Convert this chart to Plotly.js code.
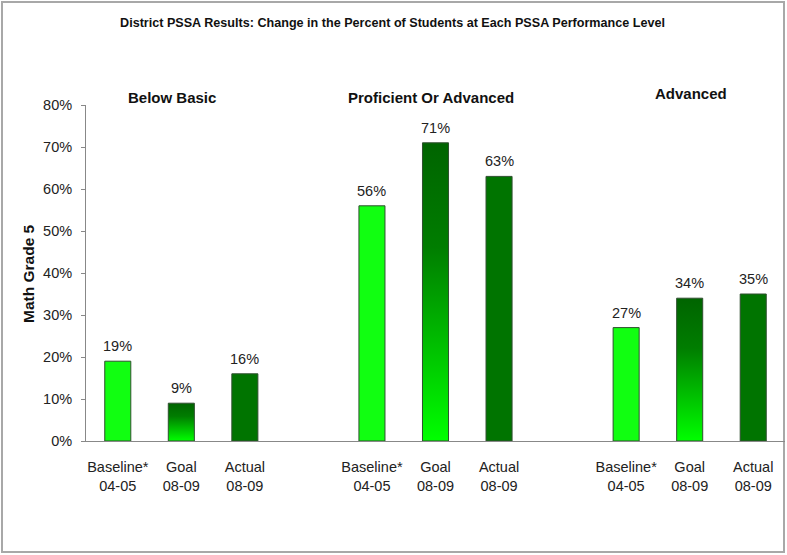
<!DOCTYPE html>
<html>
<head>
<meta charset="utf-8">
<script src="https://cdn.plot.ly/plotly-3.0.1.min.js"></script>
<style>
html,body{margin:0;padding:0;background:#fff;}
#chart{width:787px;height:555px;}
</style>
</head>
<body>
<div id="chart"></div>
<script>
// ---- data ----
const groups = ["Below Basic", "Proficient Or Advanced", "Advanced"];
const seriesNames = ["Baseline", "Goal", "Actual"];
const tickLabels = ["Baseline*<br>04-05", "Goal<br>08-09", "Actual<br>08-09"];
const baseline = [19, 56, 27];
const goal = [9, 71, 34];
const actual = [16, 63, 35];
const yTickVals = [0, 10, 20, 30, 40, 50, 60, 70, 80];
const yTickText = ["0%", "10%", "20%", "30%", "40%", "50%", "60%", "70%", "80%"];

// ---- layout helpers ----
const FONT = "Liberation Sans, Arial, sans-serif";
const slotsPerGroup = 4; // 3 bars + one empty gap
const seriesValues = [baseline, goal, actual];
const colors = ["#11ff11", "#006f00", "#007400"];

function xPos(g, s) { return g * slotsPerGroup + s; }

const traces = seriesValues.map((vals, s) => ({
  type: "bar",
  name: seriesNames[s],
  x: vals.map((v, g) => xPos(g, s)),
  y: vals,
  width: 0.41,
  marker: { color: colors[s], line: { color: "#2f4f2f", width: 1 } },
  hoverinfo: "y",
  showlegend: false
}));

const tickvals = [], ticktext = [];
groups.forEach((g, gi) => seriesNames.forEach((s, si) => {
  tickvals.push(xPos(gi, si)); ticktext.push(tickLabels[si]);
}));

const annotations = [];
seriesValues.forEach((vals, s) => vals.forEach((v, g) => {
  annotations.push({
    x: xPos(g, s), y: v, xref: "x", yref: "y",
    text: v + "%", showarrow: false, yanchor: "middle", yshift: 15,
    font: { family: FONT, size: 14.5, color: "#222" }
  });
}));
const groupTitleY = [97, 97, 94];
const groupTitleShift = [-9, -5, 1];
groups.forEach((g, gi) => {
  annotations.push({
    x: xPos(gi, 1), xshift: groupTitleShift[gi], y: (441 - groupTitleY[gi]) / 336, xref: "x", yref: "paper",
    text: "<b>" + g + "</b>", showarrow: false, yanchor: "middle",
    font: { family: FONT, size: 15, color: "#111" }
  });
});
annotations.push({
  x: (28 - 86) / 699, y: 0.5, xref: "paper", yref: "paper",
  text: "<b>Math Grade 5</b>", textangle: -90, showarrow: false,
  xanchor: "center", yanchor: "middle",
  font: { family: FONT, size: 15.5, color: "#111" }
});

const layout = {
  width: 787, height: 555,
  margin: { l: 86, r: 2, t: 105, b: 114 },
  paper_bgcolor: "#fff", plot_bgcolor: "#fff",
  title: {
    text: "<b>District PSSA Results: Change in the Percent of Students at Each PSSA Performance Level</b>",
    x: 392.5 / 787, xref: "container", xanchor: "center",
    y: 1 - 23 / 555, yref: "container", yanchor: "middle",
    font: { family: FONT, size: 12.6, color: "#111" }
  },
  xaxis: {
    range: [-0.5, 10.5], tickvals: tickvals, ticktext: ticktext,
    showgrid: false, zeroline: false, showline: true, linecolor: "#888", linewidth: 1,
    ticks: "", ticklabelstandoff: 13,
    tickfont: { family: FONT, size: 14.5, color: "#222" }
  },
  yaxis: {
    range: [0, 80], tickvals: yTickVals, ticktext: yTickText,
    showgrid: false, zeroline: false, showline: true, linecolor: "#888", linewidth: 1,
    ticks: "outside", ticklen: 4, tickcolor: "#888", ticklabelstandoff: 6,
    tickfont: { family: FONT, size: 14.5, color: "#222" }
  },
  annotations: annotations,
  shapes: [{
    type: "rect", xref: "paper", yref: "paper",
    x0: (2 - 86) / 699, x1: (784 - 86) / 699,
    y0: (441 - 552) / 336, y1: (441 - 2) / 336,
    line: { color: "#a8a8a8", width: 2 }, fillcolor: "rgba(0,0,0,0)", layer: "below"
  }]
};

Plotly.newPlot("chart", traces, layout, { displayModeBar: false, staticPlot: true }).then(gd => {
  const svg = gd.querySelector(".main-svg");
  const ns = "http://www.w3.org/2000/svg";
  let defs = svg.querySelector("defs");
  if (!defs) { defs = document.createElementNS(ns, "defs"); svg.insertBefore(defs, svg.firstChild); }
  const grad = document.createElementNS(ns, "linearGradient");
  grad.setAttribute("id", "goalGrad");
  grad.setAttribute("x1", "0"); grad.setAttribute("y1", "0");
  grad.setAttribute("x2", "0"); grad.setAttribute("y2", "1");
  [["0", "#006400"], ["0.35", "#007d00"], ["1", "#00ff00"]].forEach(([o, c]) => {
    const st = document.createElementNS(ns, "stop");
    st.setAttribute("offset", o); st.setAttribute("stop-color", c);
    grad.appendChild(st);
  });
  defs.appendChild(grad);
  const barTraces = gd.querySelectorAll(".barlayer .trace");
  if (barTraces[1]) {
    barTraces[1].querySelectorAll("path").forEach(p => { p.style.fill = "url(#goalGrad)"; });
  }
});
</script>
</body>
</html>
